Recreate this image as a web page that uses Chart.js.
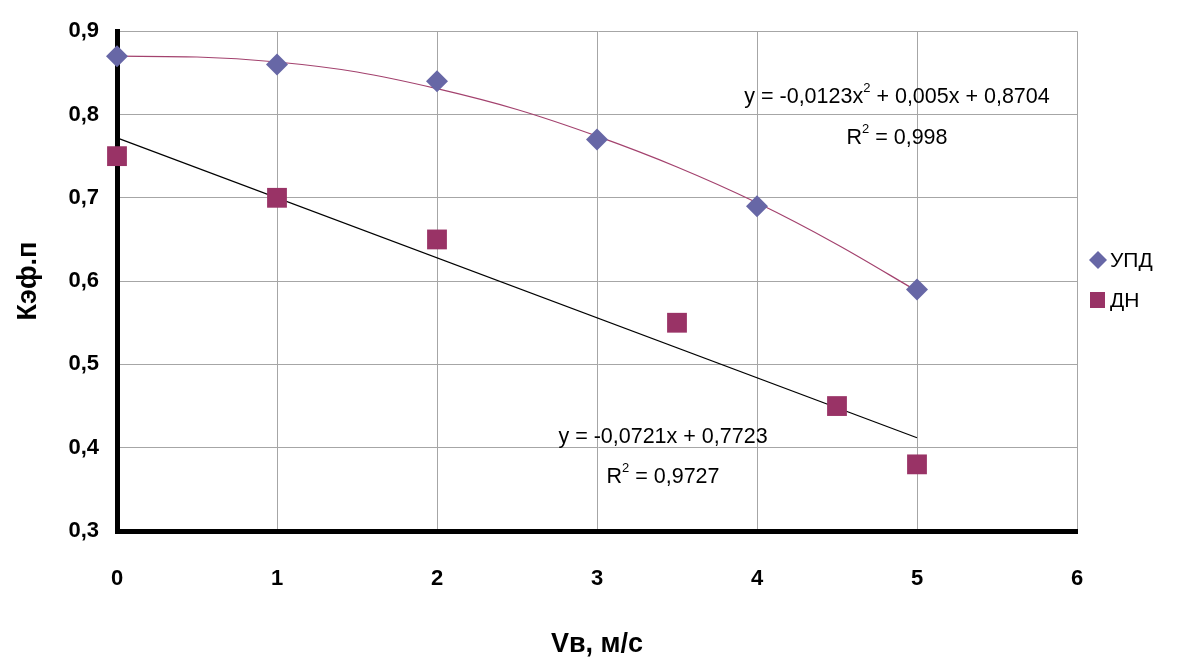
<!DOCTYPE html>
<html><head><meta charset="utf-8">
<script src="https://cdn.jsdelivr.net/npm/chart.js@4/dist/chart.umd.min.js"></script>
<style>html,body{margin:0;padding:0;background:#fff}#wrap{width:1183px;height:661px}</style>
</head><body><div id="wrap"><canvas id="c" width="1183" height="661"></canvas></div>
<script>
const seriesNames = ['УПД', 'ДН'];
const updX = [0, 1, 2, 3, 4, 5];
const updY = [0.87, 0.86, 0.84, 0.77, 0.69, 0.59];
const dnX = [0, 1, 2, 3.5, 4.5, 5];
const dnY = [0.75, 0.70, 0.65, 0.55, 0.45, 0.38];
// trend lines
const polyTrendX = [0, 0.5, 1, 1.5, 2, 2.5, 3, 3.5, 4, 4.5, 5];
const polyTrendY = [0.870, 0.869, 0.863, 0.851, 0.831, 0.806, 0.774, 0.737, 0.694, 0.644, 0.588];
const linTrendX = [0, 5];
const linTrendY = [0.772, 0.412];
const xTicks = [0, 1, 2, 3, 4, 5, 6];
const yTicks = [0.3, 0.4, 0.5, 0.6, 0.7, 0.8, 0.9];
const eqPoly = ['y = -0,0123x', '2', ' + 0,005x + 0,8704'];
const r2Poly = ['R', '2', ' = 0,998'];
const eqLin = ['y = -0,0721x + 0,7723'];
const r2Lin = ['R', '2', ' = 0,9727'];
const xTitle = 'Vв, м/с';
const yTitle = 'Кэф.п';

const C_UPD = '#6767a6';
const C_DN = '#993366';
const FONT = "'Liberation Sans', Arial, sans-serif";

const pts = (xs, ys) => xs.map((x, i) => ({x, y: ys[i]}));

function drawRich(ctx, parts, cx, cy, size) {
  const sSize = Math.round(size * 0.62);
  const widths = parts.map((p, i) => {
    ctx.font = (i === 1 ? sSize : size) + 'px ' + FONT;
    return ctx.measureText(p).width;
  });
  const total = widths.reduce((a, b) => a + b, 0);
  let x = cx - total / 2;
  ctx.textBaseline = 'middle';
  ctx.textAlign = 'left';
  ctx.fillStyle = '#000';
  parts.forEach((p, i) => {
    ctx.font = (i === 1 ? sSize : size) + 'px ' + FONT;
    ctx.fillText(p, x, i === 1 ? cy - size * 0.42 : cy);
    x += widths[i];
  });
}

const overlay = {
  id: 'overlay',
  afterDraw(chart) {
    const ctx = chart.ctx;
    ctx.save();
    drawRich(ctx, eqPoly, 897, 97, 21.5);
    drawRich(ctx, r2Poly, 897, 138, 21.5);
    drawRich(ctx, eqLin, 663, 437, 21.5);
    drawRich(ctx, r2Lin, 663, 477, 21.5);
    // legend
    ctx.fillStyle = C_UPD;
    ctx.beginPath();
    ctx.moveTo(1098, 251); ctx.lineTo(1107, 260); ctx.lineTo(1098, 269); ctx.lineTo(1089, 260); ctx.closePath();
    ctx.fill();
    ctx.fillStyle = C_DN;
    ctx.fillRect(1090, 292, 15, 16);
    ctx.fillStyle = '#000';
    ctx.font = '21px ' + FONT;
    ctx.textAlign = 'left';
    ctx.textBaseline = 'middle';
    ctx.fillText(seriesNames[0], 1110, 261);
    ctx.fillText(seriesNames[1], 1110, 301);
    ctx.restore();
  }
};

new Chart(document.getElementById('c'), {
  type: 'scatter',
  data: {
    datasets: [
      {label: 'poly', data: pts(polyTrendX, polyTrendY), showLine: true, borderColor: '#a3426e', borderWidth: 1.2, pointRadius: 0, cubicInterpolationMode: 'monotone', order: 3, clip: false},
      {label: 'lin', data: pts(linTrendX, linTrendY), showLine: true, borderColor: '#000', borderWidth: 1.2, pointRadius: 0, order: 3, clip: false},
      {label: seriesNames[0], data: pts(updX, updY), pointStyle: 'rectRot', pointRadius: 11, backgroundColor: C_UPD, borderColor: C_UPD, borderWidth: 0, order: 1, clip: false},
      {label: seriesNames[1], data: pts(dnX, dnY), pointStyle: 'rect', pointRadius: 14, backgroundColor: C_DN, borderColor: C_DN, borderWidth: 0, order: 2, clip: false}
    ]
  },
  options: {
    responsive: false,
    animation: false,
    events: [],
    layout: {padding: {left: 0, top: 27, right: 106, bottom: 0}},
    plugins: {legend: {display: false}, tooltip: {enabled: false}},
    scales: {
      x: {
        type: 'linear', min: 0, max: 6,
        afterBuildTicks: s => { s.ticks = xTicks.map(v => ({value: v})); },
        afterFit: s => { s.height = 130; },
        grid: {color: '#a6a6a6', lineWidth: 1, drawTicks: false},
        border: {color: '#000', width: 5},
        ticks: {color: '#000', padding: 35, font: {family: FONT, size: 22, weight: 'bold'}, callback: v => String(v)},
        title: {display: true, text: xTitle, color: '#000', font: {family: FONT, size: 27, weight: 'bold'}, padding: {top: 0, bottom: 0}}
      },
      y: {
        type: 'linear', min: 0.3, max: 0.9,
        afterBuildTicks: s => { s.ticks = yTicks.map(v => ({value: v})); },
        afterFit: s => { s.width = 117; },
        grid: {color: '#a6a6a6', lineWidth: 1, drawTicks: false},
        border: {color: '#000', width: 5},
        ticks: {color: '#000', padding: 18, font: {family: FONT, size: 22, weight: 'bold'}, callback: v => v.toFixed(1).replace('.', ',')},
        title: {display: true, text: yTitle, color: '#000', font: {family: FONT, size: 27, weight: 'bold'}, padding: {top: 12, bottom: 0}}
      }
    }
  },
  plugins: [overlay]
});
</script>
</body></html>
